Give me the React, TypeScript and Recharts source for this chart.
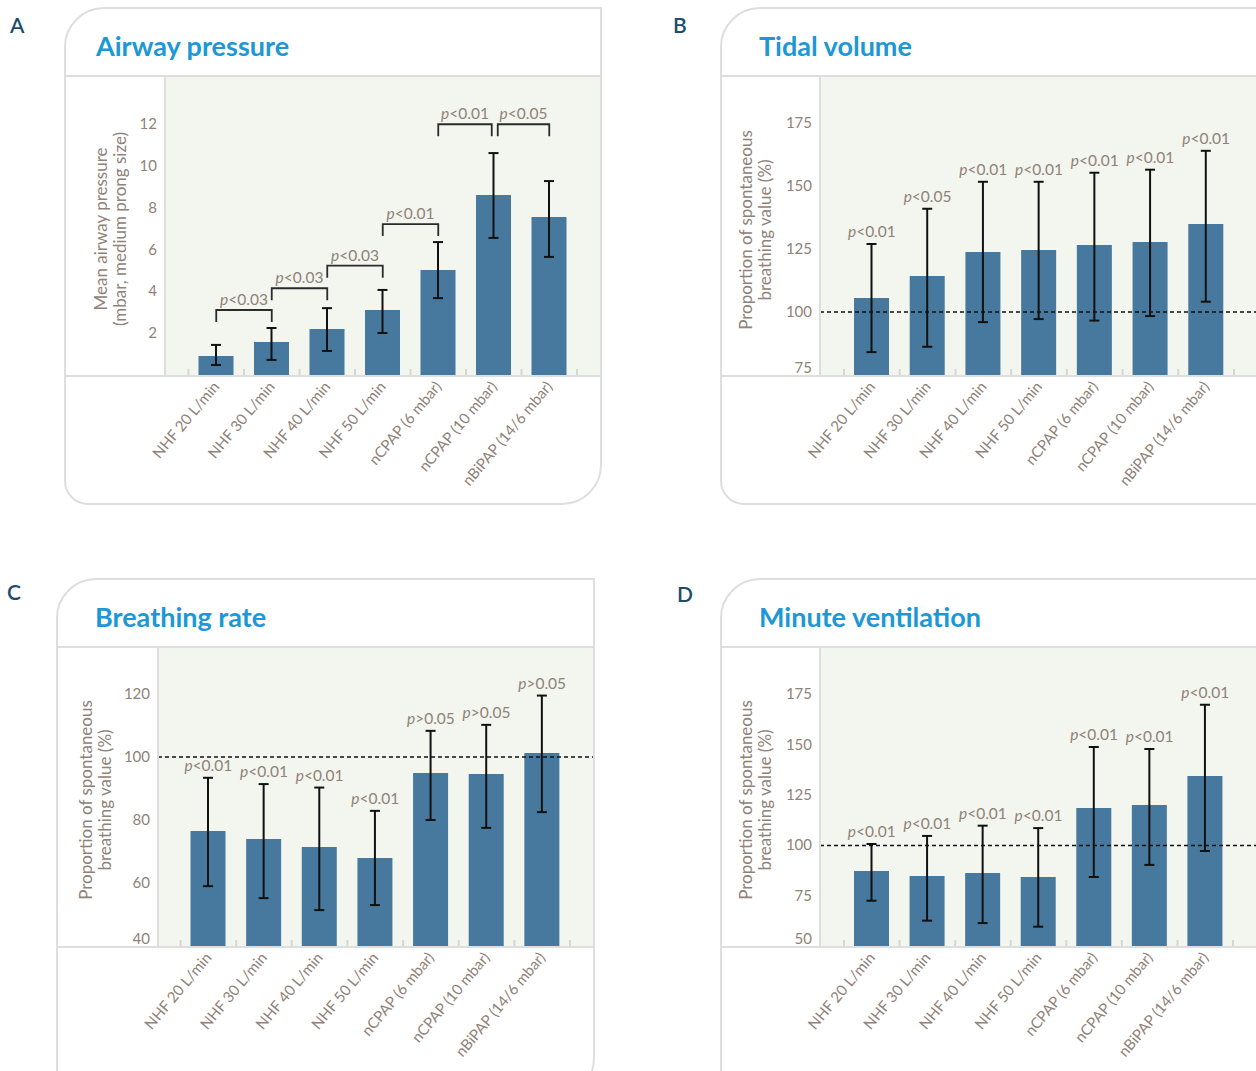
import React from 'react';
import {
  ComposedChart,
  Bar,
  ErrorBar,
  XAxis,
  YAxis,
  CartesianGrid,
  ReferenceLine,
  Line,
  LabelList,
} from 'recharts';

// ---------- data ----------
const categories = [
  'NHF 20 L/min',
  'NHF 30 L/min',
  'NHF 40 L/min',
  'NHF 50 L/min',
  'nCPAP (6 mbar)',
  'nCPAP (10 mbar)',
  'nBiPAP (14/6 mbar)',
];

// A: Airway pressure
const pressureMean = [0.91, 1.58, 2.2, 3.11, 5.02, 8.61, 7.56];
const pressureLow = [0.48, 0.72, 1.15, 2.01, 3.68, 6.56, 5.65];
const pressureHigh = [1.44, 2.25, 3.2, 4.07, 6.36, 10.62, 9.28];
const pressureTicks = [2, 4, 6, 8, 10, 12];
const pressureDomain: [number, number] = [0, 14.26];
const pressureBrackets = [
  { from: 0, to: 1, level: 3.11, label: 'p<0.03' },
  { from: 1, to: 2, level: 4.15, label: 'p<0.03' },
  { from: 2, to: 3, level: 5.23, label: 'p<0.03' },
  { from: 3, to: 4, level: 7.22, label: 'p<0.01' },
  { from: 4, to: 5, level: 12.0, label: 'p<0.01' },
  { from: 5, to: 6, level: 12.0, label: 'p<0.05' },
];

// B: Tidal volume
const tidalMean = [105.6, 114.3, 123.8, 124.6, 126.6, 127.8, 134.9];
const tidalLow = [84.1, 86.2, 96.0, 97.2, 96.6, 98.4, 104.1];
const tidalHigh = [127.0, 141.0, 151.7, 151.7, 155.3, 156.5, 164.0];
const tidalP = ['p<0.01', 'p<0.05', 'p<0.01', 'p<0.01', 'p<0.01', 'p<0.01', 'p<0.01'];
const tidalTicks = [75, 100, 125, 150, 175];
const tidalDomain: [number, number] = [75, 193.3];

// C: Breathing rate
const rateMean = [76.5, 74.0, 71.4, 67.9, 94.9, 94.6, 101.3];
const rateLow = [59.0, 55.2, 51.4, 53.0, 80.0, 77.5, 82.5];
const rateHigh = [93.4, 91.4, 90.3, 82.9, 108.3, 110.2, 119.5];
const rateP = ['p<0.01', 'p<0.01', 'p<0.01', 'p<0.01', 'p>0.05', 'p>0.05', 'p>0.05'];
const rateTicks = [40, 60, 80, 100, 120];
const rateDomain: [number, number] = [40, 134.6];

// D: Minute ventilation
const minuteMean = [87.3, 84.8, 86.3, 84.3, 118.6, 120.1, 134.5];
const minuteLow = [72.5, 62.6, 61.4, 59.6, 84.3, 90.3, 97.2];
const minuteHigh = [100.7, 104.7, 109.8, 108.6, 148.9, 147.9, 169.9];
const minuteP = ['p<0.01', 'p<0.01', 'p<0.01', 'p<0.01', 'p<0.01', 'p<0.01', 'p<0.01'];
const minuteTicks = [50, 75, 100, 125, 150, 175];
const minuteDomain: [number, number] = [50, 198.1];

const spontRef = 100;

// ---------- styles ----------
const FONT = 'Lato, "Open Sans", sans-serif';
const TITLE_FONT = 'Lato, sans-serif';
const TEXT = '#8f8278';
const BAR = '#47789d';
const PLOT_BG = '#f3f5ef';
const BORDER = '#dedede';
const TICK = '#d6d6d6';
const TITLE = '#1b98d5';
const LETTER = '#1d4d6d';

type Row = { cat: string; mean: number; err: [number, number]; high: number; p: string };

function buildRows(mean: number[], low: number[], high: number[], p?: string[]): Row[] {
  return categories.map((c, i) => ({
    cat: c,
    mean: mean[i],
    err: [mean[i] - low[i], high[i] - mean[i]],
    high: high[i],
    p: p ? p[i] : '',
  }));
}

const PText = ({ x, y, text }: { x: number; y: number; text: string }) => (
  <text x={x} y={y} textAnchor="middle" fill={TEXT} fontSize={15.5} fontFamily={FONT}>
    <tspan fontStyle="italic">{text.slice(0, 1)}</tspan>
    <tspan>{text.slice(1)}</tspan>
  </text>
);

const BracketShape = (props: any) => {
  const { x1, y1, x2, label, gapL, gapR } = props;
  const leg = 12;
  const a = x1 + gapL;
  const b = x2 - gapR;
  return (
    <g>
      <path
        d={`M${a},${y1 + leg}V${y1}H${b}V${y1 + leg}`}
        stroke="#2b2b2b"
        strokeWidth={1.8}
        fill="none"
      />
      <PText x={(a + b) / 2} y={y1 - 5} text={label} />
    </g>
  );
};

const makeXTick = (band: number) => (props: any) => {
  const { x, y, payload, index } = props;
  return (
    <g>
      <line x1={x - band / 2} x2={x - band / 2} y1={y - 6} y2={y} stroke={TICK} strokeWidth={2} />
      {index === categories.length - 1 && (
        <line x1={x + band / 2} x2={x + band / 2} y1={y - 6} y2={y} stroke={TICK} strokeWidth={2} />
      )}
      <text
        transform={`translate(${x + 4},${y + 12}) rotate(-50)`}
        textAnchor="end"
        fill={TEXT}
        fontSize={15}
        fontFamily={FONT}
      >
        {payload.value}
      </text>
    </g>
  );
};

const makeYTick = (minVal: number) => (props: any) => {
  const { x, y, payload } = props;
  const shift = payload.value === minVal ? -7 : 0;
  return (
    <text x={x} y={y + shift} dy={5} textAnchor="end" fill={TEXT} fontSize={15} fontFamily={FONT}>
      {payload.value}
    </text>
  );
};

type PanelProps = {
  letter: string;
  letterX: number;
  letterY: number;
  title: string;
  titleX: number;
  titleY: number;
  cardLeft: number;
  cardTop: number;
  cardW: number;
  cardH: number;
  radii: string;
  headerY: number;
  plotLeft: number;
  plotRight: number;
  plotBottom: number;
  padL: number;
  padR: number;
  rows: Row[];
  domain: [number, number];
  ticks: number[];
  axisTitle: string[];
  axisTitleX: number[];
  axisTitleY: number;
  refLine?: number;
  brackets?: { from: number; to: number; level: number; label: string }[];
  showP: boolean;
};

const Panel = (pp: PanelProps) => {
  const plotTop = pp.headerY + 1;
  const chartW = pp.plotRight - pp.cardLeft;
  const chartH = pp.cardTop + pp.cardH - plotTop;
  const plotH = pp.plotBottom - plotTop;
  const band = (pp.plotRight - pp.plotLeft - pp.padL - pp.padR) / categories.length;
  const brackets = pp.brackets || [];
  return (
    <>
      <div
        style={{
          position: 'absolute',
          left: pp.cardLeft,
          top: pp.cardTop,
          width: pp.cardW,
          height: pp.cardH,
          border: `2px solid ${BORDER}`,
          borderRadius: pp.radii,
          boxSizing: 'border-box',
          background: '#fff',
        }}
      />
      <div
        style={{
          position: 'absolute',
          left: pp.cardLeft,
          top: pp.headerY - 1,
          width: pp.cardW,
          height: 2,
          background: BORDER,
        }}
      />
      <div
        style={{
          position: 'absolute',
          left: pp.cardLeft,
          top: pp.plotBottom,
          width: pp.cardW,
          height: 2,
          background: BORDER,
        }}
      />
      <div
        style={{
          position: 'absolute',
          left: pp.letterX,
          top: pp.letterY,
          fontFamily: FONT,
          fontSize: 21,
          fontWeight: 600,
          color: LETTER,
          lineHeight: '21px',
        }}
      >
        {pp.letter}
      </div>
      <div
        style={{
          position: 'absolute',
          left: pp.titleX,
          top: pp.titleY,
          fontFamily: TITLE_FONT,
          fontSize: 27,
          fontWeight: 700,
          color: TITLE,
          lineHeight: '29px',
          whiteSpace: 'nowrap',
        }}
      >
        {pp.title}
      </div>
      {pp.axisTitle.map((t, i) => (
        <div
          key={i}
          style={{
            position: 'absolute',
            left: pp.axisTitleX[i] - 170,
            top: pp.axisTitleY - 10,
            width: 340,
            height: 20,
            lineHeight: '20px',
            textAlign: 'center',
            fontFamily: FONT,
            fontSize: 17,
            color: TEXT,
            transform: 'rotate(-90deg)',
            whiteSpace: 'nowrap',
          }}
        >
          {t}
        </div>
      ))}
      <div style={{ position: 'absolute', left: pp.cardLeft, top: plotTop }}>
        <ComposedChart
          width={chartW}
          height={chartH}
          data={pp.rows}
          margin={{ top: 0, right: 0, bottom: 0, left: 0 }}
        >
          <CartesianGrid horizontal={false} vertical={false} fill={PLOT_BG} stroke="none" />
          <XAxis
            dataKey="cat"
            type="category"
            interval={0}
            height={chartH - plotH}
            padding={{ left: pp.padL, right: pp.padR }}
            axisLine={false}
            tickLine={false}
            tickSize={0}
            tickMargin={0}
            tick={makeXTick(band)}
          />
          <YAxis
            type="number"
            domain={pp.domain}
            ticks={pp.ticks}
            allowDataOverflow
            width={pp.plotLeft - pp.cardLeft}
            axisLine={{ stroke: BORDER, strokeWidth: 2 }}
            tickLine={false}
            tickSize={0}
            tickMargin={8}
            tick={makeYTick(pp.domain[0])}
          />
          {pp.refLine !== undefined && (
            <ReferenceLine y={pp.refLine} stroke="#111" strokeWidth={1.5} strokeDasharray="4 3" />
          )}
          <Bar dataKey="mean" fill={BAR} barSize={35} isAnimationActive={false}>
            <ErrorBar dataKey="err" direction="y" width={5} stroke="#111" strokeWidth={2} />
          </Bar>
          {pp.showP && (
            <Line
              dataKey="high"
              stroke="none"
              dot={false}
              activeDot={false}
              isAnimationActive={false}
              legendType="none"
            >
              <LabelList
                dataKey="p"
                content={(lp: any) => <PText x={lp.x} y={lp.y - 7} text={String(lp.value)} />}
              />
            </Line>
          )}
          {brackets.map((b, i) => {
            const prevSame = i > 0 && brackets[i - 1].level === b.level;
            const nextSame = i < brackets.length - 1 && brackets[i + 1].level === b.level;
            return (
              <ReferenceLine
                key={i}
                segment={[
                  { x: categories[b.from], y: b.level },
                  { x: categories[b.to], y: b.level },
                ]}
                shape={(sp: any) => (
                  <BracketShape {...sp} label={b.label} gapL={prevSame ? 4 : 0} gapR={nextSame ? 2 : 0} />
                )}
              />
            );
          })}
        </ComposedChart>
      </div>
    </>
  );
};

export default function App() {
  const axisSpont = ['Proportion of spontaneous', 'breathing value (%)'];
  return (
    <div
      style={{
        position: 'absolute',
        left: 0,
        top: 0,
        width: 1256,
        height: 1071,
        overflow: 'hidden',
        background: '#fff',
      }}
    >
      <Panel
        letter="A"
        letterX={10}
        letterY={14}
        title="Airway pressure"
        titleX={96}
        titleY={31}
        cardLeft={64}
        cardTop={7}
        cardW={538}
        cardH={498}
        radii="40px 0 40px 24px"
        headerY={76}
        plotLeft={165}
        plotRight={600}
        plotBottom={375}
        padL={23.5}
        padR={23}
        rows={buildRows(pressureMean, pressureLow, pressureHigh)}
        domain={pressureDomain}
        ticks={pressureTicks}
        axisTitle={['Mean airway pressure', '(mbar, medium prong size)']}
        axisTitleX={[101, 120]}
        axisTitleY={229}
        brackets={pressureBrackets}
        showP={false}
      />
      <Panel
        letter="B"
        letterX={673}
        letterY={14}
        title="Tidal volume"
        titleX={759}
        titleY={31}
        cardLeft={720}
        cardTop={7}
        cardW={600}
        cardH={498}
        radii="40px 0 40px 24px"
        headerY={76}
        plotLeft={820}
        plotRight={1256}
        plotBottom={375}
        padL={24}
        padR={22}
        rows={buildRows(tidalMean, tidalLow, tidalHigh, tidalP)}
        domain={tidalDomain}
        ticks={tidalTicks}
        axisTitle={axisSpont}
        axisTitleX={[746, 765]}
        axisTitleY={230}
        refLine={spontRef}
        showP={true}
      />
      <Panel
        letter="C"
        letterX={7}
        letterY={581}
        title="Breathing rate"
        titleX={95}
        titleY={602}
        cardLeft={56}
        cardTop={578}
        cardW={539}
        cardH={520}
        radii="40px 0 40px 24px"
        headerY={647}
        plotLeft={158}
        plotRight={593}
        plotBottom={946}
        padL={22.5}
        padR={23}
        rows={buildRows(rateMean, rateLow, rateHigh, rateP)}
        domain={rateDomain}
        ticks={rateTicks}
        axisTitle={axisSpont}
        axisTitleX={[86, 105]}
        axisTitleY={800}
        refLine={spontRef}
        showP={true}
      />
      <Panel
        letter="D"
        letterX={677}
        letterY={583}
        title="Minute ventilation"
        titleX={759}
        titleY={602}
        cardLeft={720}
        cardTop={578}
        cardW={600}
        cardH={520}
        radii="40px 0 40px 24px"
        headerY={647}
        plotLeft={820}
        plotRight={1256}
        plotBottom={946}
        padL={24}
        padR={23}
        rows={buildRows(minuteMean, minuteLow, minuteHigh, minuteP)}
        domain={minuteDomain}
        ticks={minuteTicks}
        axisTitle={axisSpont}
        axisTitleX={[746, 765]}
        axisTitleY={800}
        refLine={spontRef}
        showP={true}
      />
    </div>
  );
}
